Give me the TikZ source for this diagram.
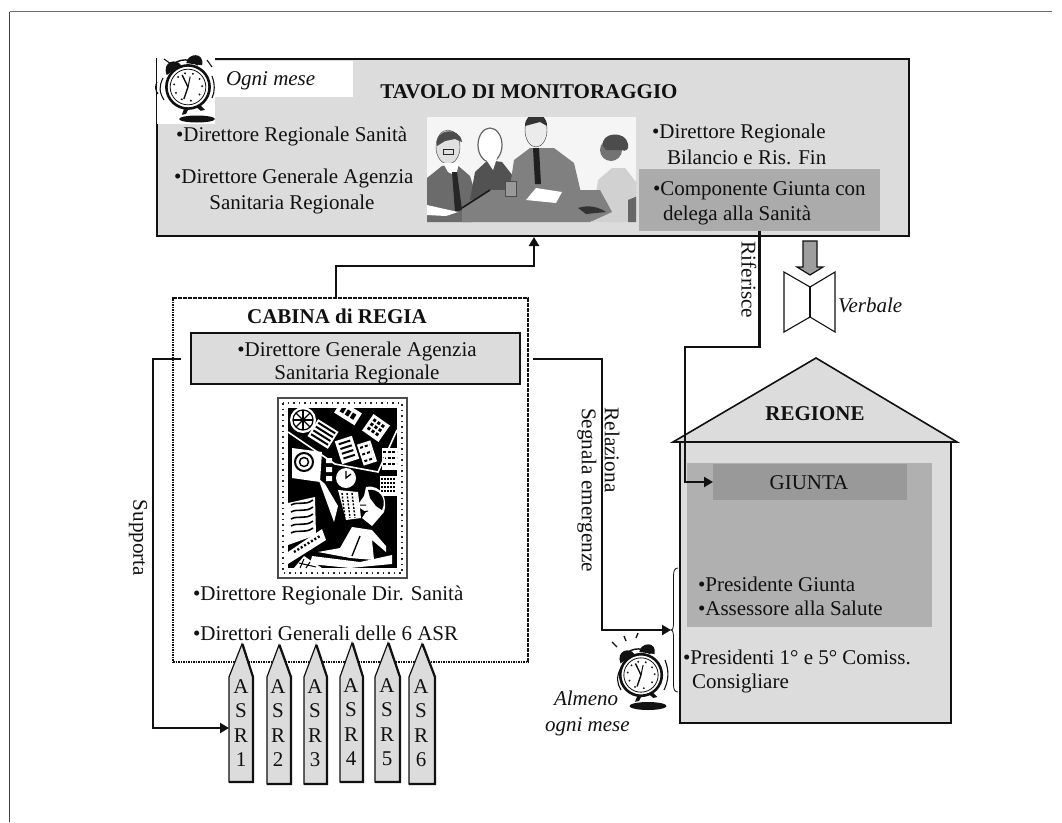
\documentclass[tikz,border=0pt]{standalone}
\usepackage{fontspec}
\setmainfont{Liberation Serif}
\usetikzlibrary{arrows.meta}
\definecolor{ink}{HTML}{111111}
\definecolor{pale}{HTML}{DCDCDC}
\definecolor{midg}{HTML}{B0B0B0}
\definecolor{darkg}{HTML}{ABABAB}
\definecolor{giu}{HTML}{999999}
\tikzset{
 base/.style={inner sep=0pt,outer sep=0pt,font=\fontsize{21}{25}\selectfont,text=ink},
 txt/.style={base,anchor=base west},
 ctxt/.style={base,anchor=base},
 btxt/.style={ctxt,font=\fontsize{21}{25}\bfseries\selectfont},
 itxt/.style={txt,font=\fontsize{21}{25}\itshape\selectfont},
 rottxt/.style={base,rotate=-90,xscale=1.01},
 panel/.style={draw=ink,line width=1.6pt,fill=pale,inner sep=0pt,outer sep=0pt},
 flat/.style={fill=#1,inner sep=0pt,outer sep=0pt},
 conn/.style={draw=ink,line width=2.6pt,-{Triangle[length=9pt,width=10pt]},line join=miter},
 pent/.style={draw=ink,line width=1.2pt,fill=pale},
 pentedge/.style={draw=ink,line width=2.2pt},
 asr/.style={base,align=center,font=\fontsize{21}{24.5}\selectfont},
}
\newcommand{\alarmclk}[4]{%
 \begin{scope}[shift={(#1,#2)},scale=#3,rotate=#4]
  \fill[ink] (-17,-15) .. controls (-19,-28) and (-5,-29) .. (-2,-21) -- cycle;
  \fill[ink] (17,-17) .. controls (22,-29) and (6,-31) .. (3,-22) -- cycle;
  \draw[ink,line width=1.4pt] (-15,-18) .. controls (-8,-28) and (6,-28) .. (13,-18);
  \fill[ink] (-7,18) -- (-11,24) -- (-7,24) -- (-3,19) -- cycle;
  \fill[ink] (7,18) -- (11,24) -- (7,24) -- (3,19) -- cycle;
  \draw[ink,fill=white,line width=2.6pt] (0,0) circle [radius=20];
  \draw[ink,line width=0.8pt] (0,0) circle [radius=16.5];
  \foreach \tx/\ty in {0/-13,7/-11,12/-5,13/2,9/9,0/13,-8/10,-12/3,-12/-5,-7/-11}
   \fill[ink] (\tx,\ty) circle [radius=1];
  \draw[ink,line width=1.4pt] (0,0) -- (-3,-12);
  \draw[ink,line width=1.4pt] (0,0) -- (-6,10);
  \draw[ink,line width=1pt] (0,0) -- (4,-9);
 \end{scope}%
 }
\begin{document}
\begin{tikzpicture}[x=1pt,y=-1pt]
\useasboundingbox (0,0) rectangle (1062,822);
\fill[white] (0,0) rectangle (1062,822);
% page frame
\draw[gray!85!black,line width=1.8pt] (9.5,11.5) -- (1052,11.5);
\draw[black!75,line width=1.8pt] (9.5,11.5) -- (9.5,822);

% ---- Tavolo
\node[panel,minimum width=752pt,minimum height=177pt] (tavolo) at (533,147.5) {};
\fill[white] (157,58) rectangle (215,124);
\node[flat=white,minimum width=138pt,minimum height=36pt] (ognibox) at (284,79) {};
\node[itxt] (ogni) at (226,85) {Ogni mese};
\node[btxt] (tavtitle) at (529,98) {TAVOLO DI MONITORAGGIO};
\node[txt] (t1) at (176,141) {•Direttore Regionale Sanità};
\node[txt] (t2) at (174,183) {•Direttore Generale Agenzia};
\node[ctxt] (t3) at (292,209) {Sanitaria Regionale};
\node[txt] (t4) at (652,138) {•Direttore Regionale};
\node[txt] (t5) at (667,164) {Bilancio e Ris. Fin};
\node[flat=darkg,minimum width=241pt,minimum height=62pt] (delega) at (759.5,200) {};
\node[txt] (t6) at (653,195) {•Componente Giunta con};
\node[txt] (t7) at (663,220) {delega alla Sanità};

% alarm clock, top
\alarmclk{188}{87}{1.08}{12}
\fill[ink] (197,119) ellipse [x radius=18,y radius=3.5];
\draw[ink,line width=1.1pt] (163,78) .. controls (159,86) and (159,92) .. (164,100);
\draw[ink,line width=1.1pt] (157,82) .. controls (155,86) and (155,90) .. (158,94);
\draw[ink,line width=1.1pt] (212,76) .. controls (215,84) and (215,92) .. (212,98);
\draw[ink,line width=1.1pt] (207,60) -- (212,67);
\draw[ink,line width=1.1pt] (164,59) -- (171,64);

% meeting picture
\begin{scope}
 \clip (427,117) rectangle (636,222);
 \fill[white!96!black] (427,117) rectangle (636,222);
 % man 1
 \fill[black!58] (427,222) -- (427,178) -- (442,166) -- (456,164) -- (470,176) -- (480,208) -- (472,222) -- cycle;
 \draw[black!80,fill=black!12] (448,147) ellipse [x radius=12,y radius=17];
 \fill[black!70] (437,146) .. controls (434,128) and (460,126) .. (462,142) -- (455,139) -- (445,141) -- cycle;
 \draw[black!85,line width=1pt] (443,149) rectangle (453,154);
 \fill[white] (443,163) -- (459,163) -- (456,176) -- (448,172) -- cycle;
 \fill[black!85] (452,172) -- (457,172) -- (462,210) -- (455,212) -- cycle;
 % woman 2
 \fill[black!68] (470,200) -- (475,172) -- (488,160) -- (502,162) -- (513,176) -- (516,192) -- cycle;
 \draw[black!60,fill=white,line width=1.2pt] (490,145) ellipse [x radius=12,y radius=17];
 \fill[white] (485,158) -- (497,158) -- (493,170) -- cycle;
 % man 3
 \fill[black!50] (508,200) -- (514,160) -- (530,148) -- (554,148) -- (574,163) -- (582,197) -- cycle;
 \draw[black!80,fill=black!8] (536,130) ellipse [x radius=11,y radius=17];
 \fill[black!80] (525,126) .. controls (525,110) and (547,110) .. (547,126) -- (540,122) -- cycle;
 \fill[black!88] (533,148) -- (539,148) -- (541,184) -- (535,184) -- cycle;
 % person 4
 \fill[black!18] (592,222) -- (598,180) -- (612,168) -- (625,168) -- (636,182) -- (636,222) -- cycle;
 \fill[black!55] (611,150) circle [radius=11];
 \fill[black!70] (603,146) .. controls (600,132) and (626,130) .. (628,144) .. controls (630,150) and (624,152) .. (622,150) -- (606,150) -- cycle;
 \fill[black!60] (628,222) -- (628,200) -- (640,195) -- (640,222) -- cycle;
 % table
 \fill[black!50] (462,208) -- (490,190) -- (600,190) -- (612,212) -- (590,222) -- (462,222) -- cycle;
 \draw[black!90,line width=1.6pt] (462,208) -- (490,190);
 \fill[white] (526,200) -- (536,188) -- (562,192) -- (556,203) -- cycle;
 \draw[black!70,fill=black!40] (505,181) rectangle (516,196);
 \fill[black!80] (578,208) .. controls (590,204) and (600,208) .. (606,212) -- (586,214) -- cycle;
 \fill[white] (427,205) -- (458,212) -- (446,216) -- (427,215) -- cycle;
\end{scope}

% ---- Verbale
\draw[draw=ink,line width=1.2pt,fill=black!38] (803,241) -- (817,241) -- (817,267) -- (823,267) -- (810,275) -- (797,267) -- (803,267) -- cycle;
\draw[draw=ink,line width=1.1pt,fill=white] (810,287) -- (784,272) -- (784,332) -- (810,317) -- (835,332) -- (835,272) -- cycle;
\draw[draw=ink,line width=1.1pt] (810,287) -- (810,317);
\node[itxt] (verbale) at (838,312) {Verbale};

% ---- Regione
\draw[panel] (680,442) rectangle (951,723);
\draw[panel] (816,358) -- (957,442) -- (673,442) -- cycle;
\node[btxt] (regione) at (815,420) {REGIONE};
\node[flat=midg,minimum width=245pt,minimum height=164pt] (inner) at (809.5,545) {};
\node[flat=giu,minimum width=194pt,minimum height=36pt] (giunta) at (810,482) {};
\node[ctxt] (giuntat) at (809,489) {GIUNTA};
\node[txt] (r1) at (698,591) {•Presidente Giunta};
\node[txt] (r2) at (698,615) {•Assessore alla Salute};
\node[txt] (r3) at (683,664) {•Presidenti 1° e 5° Comiss.};
\node[txt] (r4) at (692,688) {Consigliare};

% brace
\coordinate (bracetip) at (671,630);
\draw[ink,line width=0.8pt] (678,568) .. controls (674.5,568) and (673.5,571) .. (673.5,576) -- (673.5,622) .. controls (673.5,627) and (673,630) .. (bracetip) .. controls (673,630) and (673.5,633) .. (673.5,638) -- (673.5,684) .. controls (673.5,689) and (674.5,692) .. (678,692);

% alarm clock, bottom
\alarmclk{641}{675}{1.04}{12}
\fill[ink] (648,706) ellipse [x radius=18.5,y radius=4];
\draw[ink,line width=1.1pt] (621,668) .. controls (616,676) and (617,684) .. (621,690);
\draw[ink,line width=1.1pt] (665,660) .. controls (669,670) and (669,680) .. (664,690);
\draw[ink,line width=1.3pt] (612,642) -- (617,647);
\draw[ink,line width=1.3pt] (624,636) -- (626,641);
\draw[ink,line width=1.3pt] (638,633) -- (636,638);
\node[itxt] (alm1) at (554,705) {Almeno};
\node[itxt] (alm2) at (545,731) {ogni mese};

% ---- Cabina
\node[draw=ink,line width=2.2pt,dash pattern=on 1.6pt off 0.9pt,fill=white,minimum width=355pt,minimum height=364pt,inner sep=0pt,outer sep=0pt] (cabina) at (350.5,480) {};
\node[btxt] (cabt) at (337,323) {CABINA di REGIA};
\node[panel,minimum width=329pt,minimum height=51pt] (dgbox) at (355.5,358.5) {};
\node[ctxt] (d1) at (357,356) {•Direttore Generale Agenzia};
\node[ctxt] (d2) at (357,379) {Sanitaria Regionale};
\node[txt] (d3) at (193,600) {•Direttore Regionale Dir. Sanità};
\node[txt] (d4) at (193,640) {•Direttori Generali delle 6 ASR};

% woodcut
\begin{scope}
 \draw[black!70,fill=white,line width=1.6pt] (278,398) rectangle (407,578);
 \draw[black!85,line width=2.5pt,dash pattern=on 1.5pt off 4pt] (283,403) rectangle (402,573);
 \fill[black] (288,408) rectangle (397,568);
 \clip (288,408) rectangle (397,568);
 \fill[white] (303,420) circle [radius=13];
 \draw[black,line width=1.2pt] (303,420) circle [radius=10];
 \foreach \a in {0,45,90,135} \draw[black,line width=1.2pt] (303,420) -- ++(\a:10) (303,420) -- ++(\a+180:10);
 \begin{scope}[shift={(323,434)},rotate=-32]
  \fill[white] (-12,-10) rectangle (12,10);
  \foreach \s in {-7,-2.5,2,6.5} \draw[black,line width=2pt] (-10,\s) -- (10,\s);
 \end{scope}
 \begin{scope}[shift={(348,413)},rotate=-32]
  \fill[white] (-12,-7) rectangle (12,7);
  \foreach \s in {-8,-2,4} \fill[black] (\s,-3) rectangle ++(4,6);
 \end{scope}
 \begin{scope}[shift={(376,428)},rotate=-35]
  \fill[white] (-10,-10) rectangle (10,10);
  \foreach \s in {-7,-2,3} \foreach \u in {-7,-2,3} \fill[black] (\s,\u) rectangle ++(3,3);
 \end{scope}
 \begin{scope}[shift={(347,450)},rotate=18]
  \fill[white] (-9,-12) rectangle (9,12);
  \foreach \s in {-8,-3,2,7} \draw[black,line width=2pt] (-6,\s) -- (6,\s);
 \end{scope}
 \begin{scope}[shift={(367,453)},rotate=18]
  \fill[white] (-7,-11) rectangle (7,11);
  \foreach \s in {-7,0,7} \draw[black,line width=2pt,dash pattern=on 3pt off 2pt] (-5,\s) -- (5,\s);
 \end{scope}
 \fill[white] (382,448) rectangle (397,470);
 \foreach \s in {452,458,464} \draw[black,line width=2pt,dash pattern=on 3pt off 1.5pt] (383,\s) -- (397,\s);
 \draw[white,line width=1.6pt] (288,432) -- (335,464) -- (378,472) -- (397,430);
 \fill[white] (292,448) -- (322,452) -- (320,482) -- (292,478) -- cycle;
 \draw[black,line width=2pt] (304,462) circle [radius=9];
 \draw[black,line width=1.5pt] (304,462) circle [radius=4.5];
 \fill[white] (326,458) rectangle (332,463) (326,467) rectangle (332,472) (326,476) rectangle (332,481);
 \fill[white] (346,478) circle [radius=10];
 \draw[black,line width=1.3pt] (346,471) -- (346,478) -- (351,474);
 \fill[white] (380,476) rectangle (397,496);
 \foreach \s in {479,483,487,491} \draw[black,line width=1.4pt,dash pattern=on 2pt off 1pt] (381,\s) -- (396,\s);
 \fill[white] (288,503) -- (315,497) -- (316,535) -- (288,545) -- cycle;
 \foreach \s in {503,510,517,524,531} \draw[black,line width=1.6pt] (291,\s+2) .. controls (298,\s-2) and (305,\s+3) .. (313,\s-3);
 \fill[white] (338,490) -- (358,492) -- (361,518) -- (346,520) -- cycle;
 \foreach \s in {342,347,352} \draw[black,line width=1.4pt,dash pattern=on 2pt off 1.5pt] (\s,493) -- (\s+3,518);
 \fill[white] (288,552) -- (322,529) -- (326,540) -- (288,564) -- cycle;
 \draw[black,line width=2.4pt,dash pattern=on 2pt off 2pt] (294,552) -- (320,536);
 \fill[white] (318,478) -- (325,484) -- (338,506) -- (334,522) -- (326,500) -- cycle;
 % head
 \fill[white] (366,487) .. controls (382,484) and (388,500) .. (384,512) -- (372,526) -- (362,518) -- (366,512) -- (357,506) -- (364,496) -- cycle;
 \fill[black] (368,490) .. controls (378,488) and (388,498) .. (382,510) -- (376,506) -- (370,498) -- cycle;
 \draw[black,line width=1pt] (360,505) -- (366,505) (363,512) -- (368,511);
 % body
 \fill[white] (352,527) -- (372,530) -- (386,546) -- (386,552) -- (372,540) -- (374,560) -- (350,558) -- (318,552) -- (340,548) -- cycle;
 \fill[white] (312,556) -- (360,562) -- (392,555) -- (392,564) -- (350,568) -- (310,564) -- cycle;
 \draw[black,line width=1.4pt] (360,536) -- (352,556);
 \draw[black,line width=1.4pt] (326,556) -- (346,558);
 \fill[white] (294,568) -- (304,556) -- (322,568) -- cycle;
 \draw[black,line width=1pt] (299,563) -- (316,567) (304,559) -- (300,568) (310,562) -- (306,568);
\end{scope}

% ---- ASR pencils
\foreach \l/\r/\a/\tp/\bt/\dg in {229/253/242/644/782/1,267/291/279/645/784/2,304/327/316/645/784/3,340/363/352/643/782/4,375/400/388/643/782/5,409/435/422/644/784/6}{
 \draw[pent,line join=miter] (\l,677) -- (\a,\tp) -- (\r,677) -- (\r,\bt) -- (\l,\bt) -- cycle;
 \draw[pentedge] (\a+0.5,\tp) -- (\r,677) -- (\r,\bt) -- (\l,\bt);
}
\node[asr] (asr1) at (241,723) {A\\S\\R\\1};
\node[asr] (asr2) at (278,723) {A\\S\\R\\2};
\node[asr] (asr3) at (315,723) {A\\S\\R\\3};
\node[asr] (asr4) at (351,722) {A\\S\\R\\4};
\node[asr] (asr5) at (387,722) {A\\S\\R\\5};
\node[asr] (asr6) at (421,723) {A\\S\\R\\6};

% ---- connectors
\coordinate (cabtop) at (336,297);
\coordinate (tavin) at (534,237);
\coordinate (cabmid) at (336,266);
\draw[conn] (cabtop) |- (cabmid) -| (tavin);

\coordinate (bend1) at (685,347);
\draw[conn] (delega.south) |- (bend1) |- (giunta.west);
\node[rottxt] (riferisce) at (749,280) {Riferisce};

\coordinate (relA) at (533,359);
\coordinate (relB) at (602,630);
\draw[conn] (relA) -| (relB) -- (bracetip);
\node[rottxt] (relaziona) at (612,450) {Relaziona};
\node[rottxt] (segnala) at (587,490) {Segnala emergenze};

\coordinate (supA) at (181,359);
\coordinate (supB) at (153,728);
\coordinate (asr1w) at (229,728);
\draw[conn] (supA) -| (supB) -- (asr1w);
\node[rottxt] (supporta) at (138,538) {Supporta};
\end{tikzpicture}
\end{document}
